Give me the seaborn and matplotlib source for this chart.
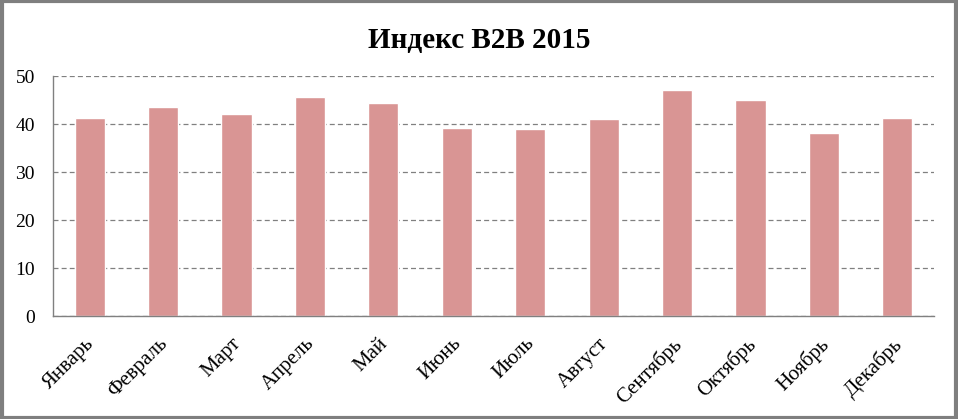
import matplotlib
matplotlib.use("Agg")
import matplotlib.pyplot as plt
import matplotlib.transforms as mtransforms
import seaborn as sns
import pandas as pd
from matplotlib.patches import Rectangle

months = ["Январь", "Февраль", "Март", "Апрель", "Май", "Июнь",
          "Июль", "Август", "Сентябрь", "Октябрь", "Ноябрь", "Декабрь"]
values = [41.3, 43.5, 42.1, 45.6, 44.4, 39.2, 39.0, 41.0, 47.1, 45.0, 38.1, 41.3]

df = pd.DataFrame({"month": months, "value": values})

sns.set_style("white")
plt.rcParams['font.family'] = ['Liberation Serif', 'DejaVu Serif']
plt.rcParams['text.color'] = 'black'
plt.rcParams['xtick.color'] = 'black'
plt.rcParams['ytick.color'] = 'black'

fig = plt.figure(figsize=(9.58, 4.19), dpi=100)
ax = fig.add_axes([0.0553, 0.2458, 0.9197, 0.5728])

sns.barplot(data=df, x="month", y="value", color="#D99594", saturation=1,
            width=0.41, ax=ax)

ax.set_ylim(0, 50)
ax.set_xlim(-0.5, 11.5)
ax.set_yticks([0, 10, 20, 30, 40, 50])
ax.yaxis.grid(True, color="#808080", linestyle=(0, (4, 2.5)), linewidth=0.9)
ax.set_axisbelow(True)
ax.set_xlabel("")
ax.set_ylabel("")

for s in ["top", "right"]:
    ax.spines[s].set_visible(False)
for s in ["left", "bottom"]:
    ax.spines[s].set_color("#808080")
    ax.spines[s].set_linewidth(1)

ax.tick_params(axis="y", length=7, color="#808080", labelcolor="black", labelsize=14, pad=6)
ax.set_xticks([i - 0.5 for i in range(13)], minor=True)
ax.tick_params(axis="x", which="minor", length=7, color="#808080")
ax.tick_params(axis="x", which="major", length=0, labelcolor="black", labelsize=15, pad=13)
shift = mtransforms.ScaledTranslation(-5 / 100, 0, fig.dpi_scale_trans)
for lbl in ax.get_xticklabels():
    lbl.set_rotation(45)
    lbl.set_ha("right")
    lbl.set_rotation_mode("anchor")
    lbl.set_transform(lbl.get_transform() + shift)

fig.suptitle("Индекс B2B 2015", y=0.935, fontsize=21, fontweight="bold", color="black")

fig.patches.append(Rectangle((0.002, 0.003), 0.996, 0.994, transform=fig.transFigure,
                             fill=False, edgecolor="#7f7f7f", linewidth=3))

fig.savefig("out.png", dpi=100)
